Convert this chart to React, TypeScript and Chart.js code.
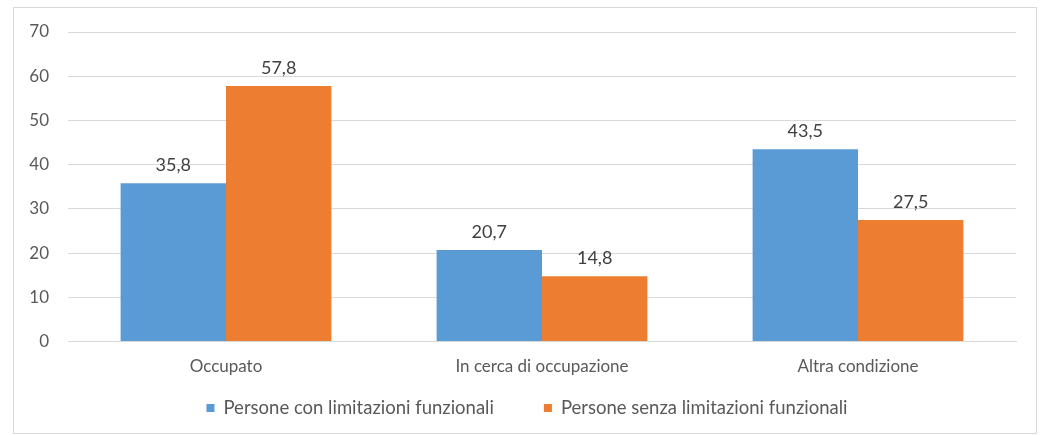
import React, { useEffect, useRef } from "react";
import { Chart, registerables } from "chart.js";

Chart.register(...registerables);

const categories = ["Occupato", "In cerca di occupazione", "Altra condizione"];
const seriesNames = ["Persone con limitazioni funzionali", "Persone senza limitazioni funzionali"];
const withLimits = [35.8, 20.7, 43.5];
const withoutLimits = [57.8, 14.8, 27.5];
const yTicks = [0, 10, 20, 30, 40, 50, 60, 70];

const FONT = "Lato, 'Open Sans', sans-serif";
const FSIZE = 17;
const TEXT = "#595959";

const valueLabels = {
  id: "valueLabels",
  afterDatasetsDraw(chart: any) {
    const ctx = chart.ctx;
    ctx.save();
    ctx.font = `18px ${FONT}`;
    ctx.fillStyle = "#404040";
    ctx.textAlign = "center";
    ctx.textBaseline = "alphabetic";
    chart.data.datasets.forEach((ds: any, i: number) => {
      const meta = chart.getDatasetMeta(i);
      meta.data.forEach((bar: any, j: number) => {
        const v = ds.data[j] as number;
        ctx.fillText(v.toFixed(1).replace(".", ","), bar.x, bar.y - 12);
      });
    });
    ctx.restore();
  },
};

const bottomLegend = {
  id: "bottomLegend",
  afterDraw(chart: any) {
    const ctx = chart.ctx;
    ctx.save();
    ctx.font = `18.5px ${FONT}`;
    ctx.textBaseline = "middle";
    ctx.textAlign = "left";
    const box = 8;
    const boxGap = 9;
    const itemGap = 50;
    const items = chart.data.datasets.map((ds: any) => ({
      label: ds.label as string,
      color: ds.backgroundColor as string,
      w: box + boxGap + ctx.measureText(ds.label).width,
    }));
    const total = items.reduce((a: number, it: any) => a + it.w, 0) + itemGap * (items.length - 1);
    const cx = chart.width / 2 + 2;
    const cy = 400;
    let x = cx - total / 2;
    items.forEach((it: any) => {
      ctx.fillStyle = it.color;
      ctx.fillRect(x, cy - box / 2, box, box);
      ctx.fillStyle = TEXT;
      ctx.fillText(it.label, x + box + boxGap, cy);
      x += it.w + itemGap;
    });
    ctx.restore();
  },
};

export default function App() {
  const ref = useRef<HTMLCanvasElement>(null);
  useEffect(() => {
    if (!ref.current) return;
    const chart = new Chart(ref.current, {
      type: "bar",
      data: {
        labels: categories,
        datasets: [
          { label: seriesNames[0], data: withLimits, backgroundColor: "#5B9BD5" },
          { label: seriesNames[1], data: withoutLimits, backgroundColor: "#ED7D31" },
        ],
      },
      options: {
        animation: false,
        responsive: false,
        maintainAspectRatio: false,
        layout: { padding: { top: 24, right: 20, left: 0, bottom: 41 } },
        datasets: { bar: { categoryPercentage: 0.667, barPercentage: 1 } },
        scales: {
          x: {
            grid: { display: false, drawTicks: false },
            border: { display: true, color: "#d9d9d9" },
            ticks: { color: TEXT, font: { family: FONT, size: FSIZE }, padding: 15 },
          },
          y: {
            min: 0,
            max: 70,
            afterFit: (s: any) => { s.width = 54; s.paddingTop = 0; },
            afterBuildTicks: (s: any) => { s.ticks = yTicks.map((v) => ({ value: v })); },
            grid: { color: "#d9d9d9", drawTicks: false },
            border: { display: false },
            ticks: { color: TEXT, font: { family: FONT, size: FSIZE }, padding: 19 },
          },
        },
        plugins: {
          tooltip: { enabled: false },
          legend: { display: false },
        },
      },
      plugins: [valueLabels, bottomLegend],
    });
    return () => chart.destroy();
  }, []);
  return (
    <div
      style={{
        position: "absolute",
        left: 13,
        top: 7,
        width: 1024,
        height: 427,
        border: "1px solid #d9d9d9",
        boxSizing: "border-box",
        background: "#fff",
      }}
    >
      <canvas ref={ref} width={1022} height={425} style={{ display: "block" }} />
    </div>
  );
}
